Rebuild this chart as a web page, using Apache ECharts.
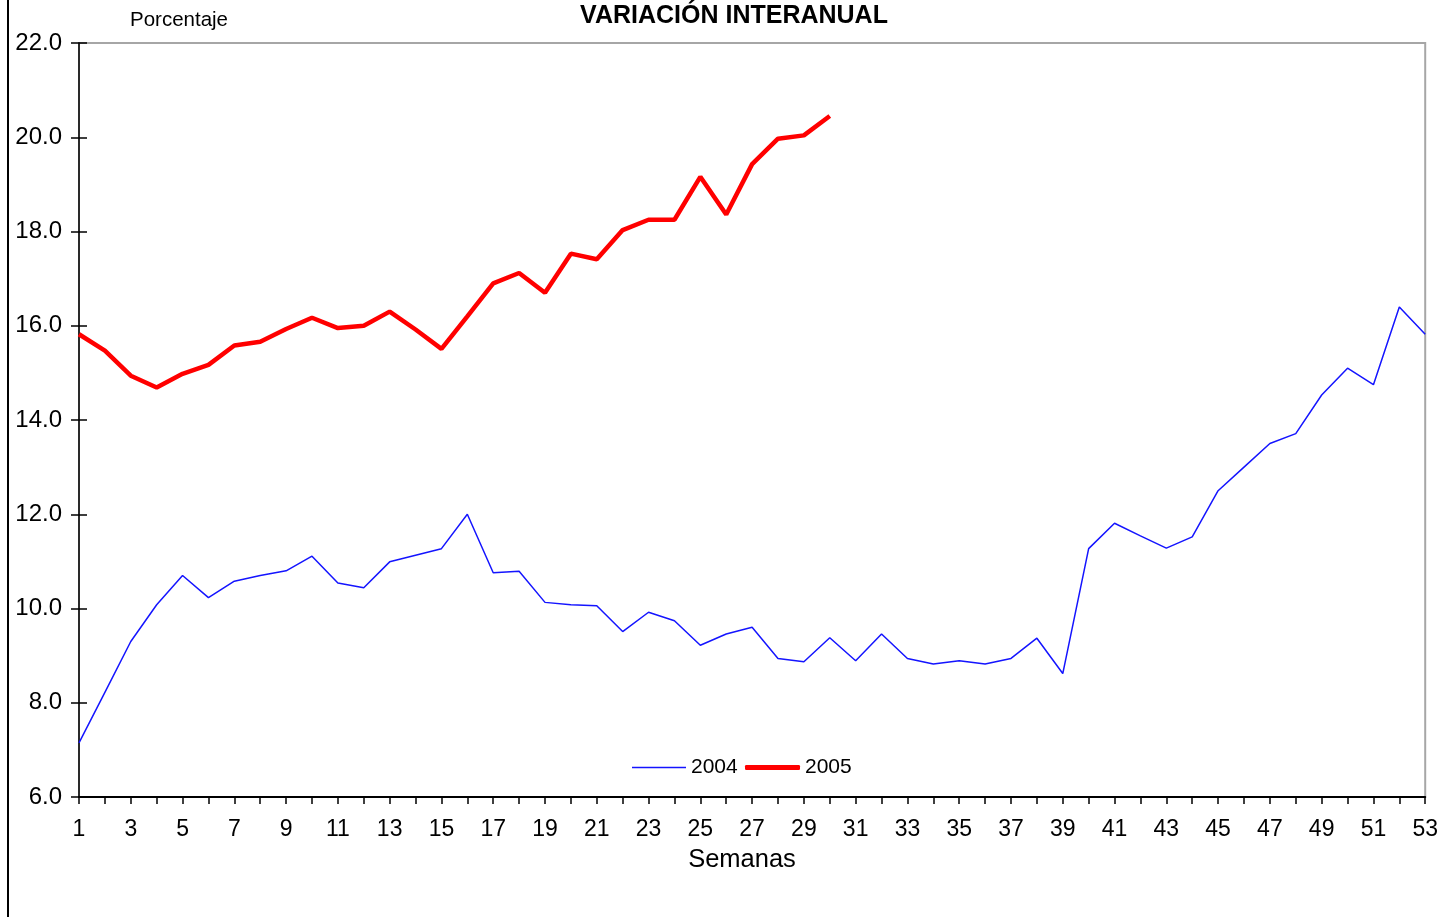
<!DOCTYPE html>
<html>
<head>
<meta charset="utf-8">
<title>Variación interanual</title>
<script src="https://cdn.jsdelivr.net/npm/echarts@6/dist/echarts.min.js"></script>
<style>
  html, body { margin: 0; padding: 0; background: #fff; }
  #main { width: 1441px; height: 917px; }
</style>
</head>
<body>
<div id="main"></div>
<script>
var weeks = [];
for (var w = 1; w <= 53; w++) weeks.push(String(w));

// valores (porcentaje)
var serie2004 = [
  7.15, 8.22, 9.30, 10.08, 10.70, 10.23, 10.58, 10.70, 10.80, 11.11,
  10.54, 10.44, 10.99, 11.13, 11.27, 12.00, 10.76, 10.79, 10.13, 10.08,
  10.06, 9.51, 9.92, 9.74, 9.22, 9.46, 9.60, 8.94, 8.87, 9.38,
  8.89, 9.46, 8.94, 8.82, 8.89, 8.82, 8.94, 9.37, 8.62, 11.27,
  11.81, 11.54, 11.28, 11.52, 12.50, 13.00, 13.50, 13.71, 14.53, 15.10,
  14.75, 16.40, 15.82
];
var serie2005 = [
  15.82, 15.47, 14.94, 14.69, 14.98, 15.17, 15.58, 15.66, 15.93, 16.17,
  15.95, 16.00, 16.30, 15.92, 15.51, 16.20, 16.90, 17.12, 16.70, 17.53,
  17.41, 18.03, 18.25, 18.25, 19.16, 18.36, 19.43, 19.97, 20.04, 20.45
];
var yMin = 6, yMax = 22, yStep = 2;

var font = 'Liberation Sans';
var chart = echarts.init(document.getElementById('main'));

var legendText = { fontFamily: font, fontSize: 21, color: '#000' };

var option = {
  animation: false,
  backgroundColor: '#fff',
  title: {
    text: 'VARIACIÓN INTERANUAL',
    left: 729, top: -1, textAlign: 'center',
    textStyle: { fontFamily: font, fontSize: 25, fontWeight: 'bold', color: '#000' }
  },
  grid: {
    left: 79, right: 13, top: 43, bottom: 120,
    show: true, borderColor: '#a6a6a6', borderWidth: 2, backgroundColor: '#fff'
  },
  legend: [{
    data: [{ name: '2004', icon: 'rect' }],
    left: 632, top: 757, padding: 0,
    itemWidth: 54, itemHeight: 1.5, itemGap: 0,
    textStyle: legendText
  }, {
    data: [{ name: '2005', icon: 'roundRect' }],
    left: 745, top: 757, padding: 0,
    itemWidth: 55, itemHeight: 5, itemGap: 0,
    textStyle: legendText
  }],
  xAxis: {
    type: 'category',
    data: weeks,
    boundaryGap: false,
    axisLine: { lineStyle: { color: '#000', width: 2 } },
    axisTick: { interval: 0, length: 7, lineStyle: { color: '#000', width: 1.5 } },
    axisLabel: { interval: 1, margin: 21, fontFamily: font, fontSize: 23, color: '#000' },
    splitLine: { show: false }
  },
  yAxis: [{
    type: 'value',
    min: yMin, max: yMax, interval: yStep,
    axisLine: { show: true, lineStyle: { color: '#000', width: 1.5 } },
    axisTick: { show: true, length: 8, lineStyle: { color: '#000', width: 1.5 } },
    axisLabel: {
      margin: 17, fontFamily: font, fontSize: 24, color: '#000',
      formatter: function (v) { return v.toFixed(1); }
    },
    splitLine: { show: false }
  }, {
    type: 'value',
    position: 'left',
    min: yMin, max: yMax, interval: yStep,
    axisLine: { show: false },
    axisTick: { show: true, inside: true, length: 8, lineStyle: { color: '#000', width: 1.5 } },
    axisLabel: { show: false },
    splitLine: { show: false }
  }],
  series: [{
    name: '2004',
    type: 'line',
    data: serie2004,
    showSymbol: false,
    symbol: 'none',
    lineStyle: { color: '#1414ff', width: 1.5 },
    itemStyle: { color: '#1414ff' }
  }, {
    name: '2005',
    type: 'line',
    data: serie2005,
    showSymbol: false,
    symbol: 'none',
    lineStyle: { color: '#ff0000', width: 4.5 },
    itemStyle: { color: '#ff0000' }
  }],
  graphic: [{
    type: 'text', x: 179, y: 20,
    style: { text: 'Porcentaje', fontFamily: font, fontSize: 20.5, fill: '#000',
             align: 'center', verticalAlign: 'middle' }
  }, {
    type: 'text', x: 742, y: 860,
    style: { text: 'Semanas', fontFamily: font, fontSize: 25.5, fill: '#000',
             align: 'center', verticalAlign: 'middle' }
  }, {
    type: 'line',
    shape: { x1: 8, y1: 0, x2: 8, y2: 917 },
    style: { stroke: '#000', lineWidth: 2 }
  }]
};

chart.setOption(option);
</script>
</body>
</html>
